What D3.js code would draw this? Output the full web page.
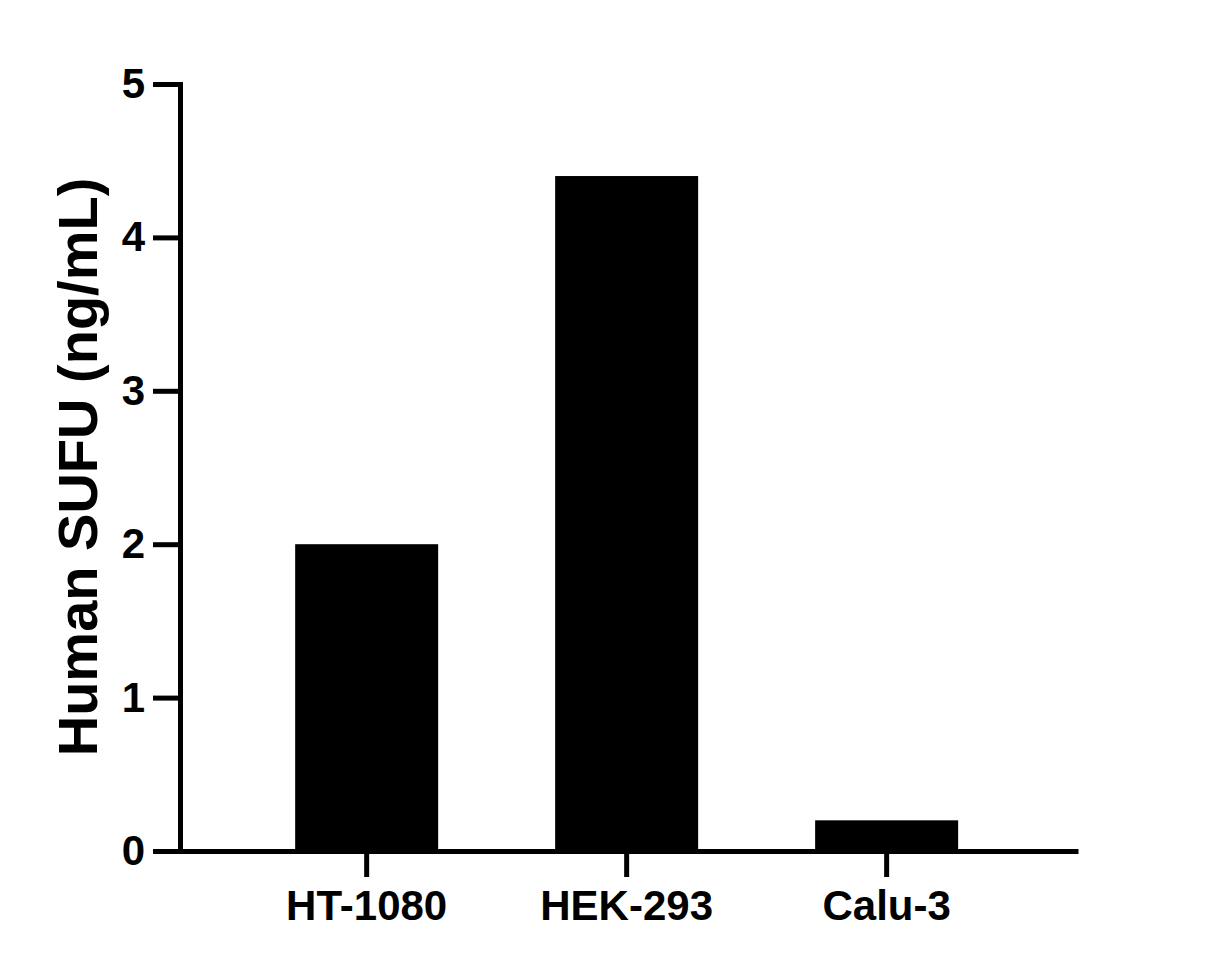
<!DOCTYPE html>
<html>
<head>
<meta charset="utf-8">
<script src="https://cdn.jsdelivr.net/npm/d3@7"></script>
<style>
  body { margin: 0; background: #fff; }
  svg { display: block; font-family: "Liberation Sans", Arial, sans-serif; font-weight: bold; }
</style>
</head>
<body>
<div id="chart"></div>
<script>
// data
const cellLines = ["HT-1080", "HEK-293", "Calu-3"];
const sufuValues = [2.0, 4.4, 0.2];
const yTicks = [0, 1, 2, 3, 4, 5];
const yLabel = "Human SUFU (ng/mL)";

const width = 1214;
const height = 968;

const svg = d3.select("#chart")
  .append("svg")
  .attr("width", width)
  .attr("height", height);

// scales
const x = d3.scaleBand()
  .domain(cellLines)
  .range([180, 1078])
  .paddingInner(0.45)
  .paddingOuter(0.452)
  .align(0.49);

const y = d3.scaleLinear()
  .domain([0, 5])
  .range([851, 84]);

// bars
svg.selectAll("rect.bar")
  .data(cellLines)
  .enter()
  .append("rect")
  .attr("class", "bar")
  .attr("x", d => x(d))
  .attr("width", x.bandwidth())
  .attr("y", (d, i) => y(sufuValues[i]))
  .attr("height", (d, i) => y(0) - y(sufuValues[i]))
  .attr("fill", "#000");

// y axis
const yAxis = svg.append("g")
  .attr("transform", "translate(180,0)")
  .call(d3.axisLeft(y).tickValues(yTicks).tickFormat(d3.format("d")).tickSize(27).tickPadding(8).tickSizeOuter(0));

yAxis.select(".domain").attr("stroke-width", 5).attr("stroke-linecap", "square");
yAxis.selectAll(".tick line").attr("stroke-width", 5);
yAxis.selectAll(".tick text")
  .attr("font-size", 42)
  .attr("font-weight", "bold")
  .attr("font-family", "Liberation Sans, Arial, sans-serif")
  .attr("fill", "#000");

// x axis
const xAxis = svg.append("g")
  .attr("transform", "translate(0,851)")
  .call(d3.axisBottom(x).tickSize(26).tickPadding(13).tickSizeOuter(0));

xAxis.select(".domain").attr("stroke-width", 5);
xAxis.selectAll(".tick line").attr("stroke-width", 5);
xAxis.selectAll(".tick text")
  .attr("font-size", 42)
  .attr("font-weight", "bold")
  .attr("font-family", "Liberation Sans, Arial, sans-serif")
  .attr("fill", "#000");

// y axis title
svg.append("text")
  .attr("transform", "translate(97,467) rotate(-90)")
  .attr("text-anchor", "middle")
  .attr("font-size", 56)
  .attr("fill", "#000")
  .text(yLabel);
</script>
</body>
</html>
